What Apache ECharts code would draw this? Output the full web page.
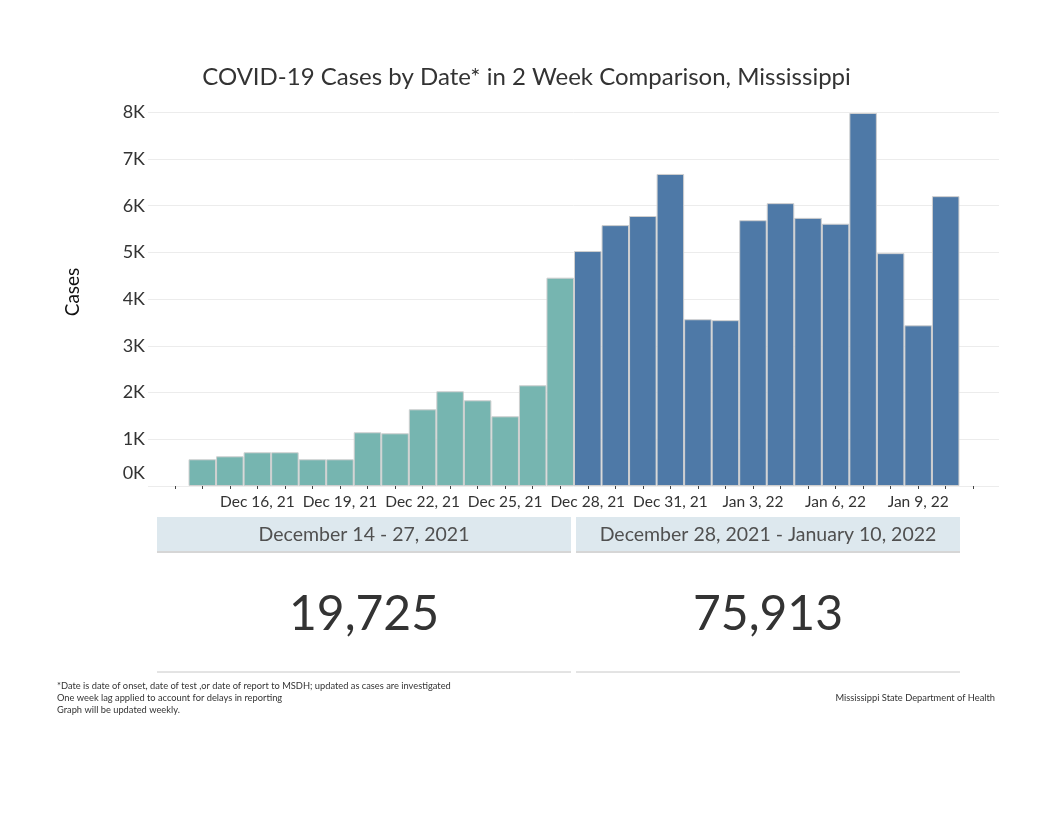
<!DOCTYPE html>
<html>
<head>
<meta charset="utf-8">
<script src="https://cdn.jsdelivr.net/npm/echarts@6/dist/echarts.min.js"></script>
<style>
html,body{margin:0;padding:0;background:#fff;}
#chart{width:1053px;height:813px;}
</style>
</head>
<body>
<div id="chart"></div>
<script>
// ---- data ----
const categories = ['Dec 13, 21','Dec 14, 21','Dec 15, 21','Dec 16, 21','Dec 17, 21','Dec 18, 21','Dec 19, 21','Dec 20, 21','Dec 21, 21','Dec 22, 21','Dec 23, 21','Dec 24, 21','Dec 25, 21','Dec 26, 21','Dec 27, 21','Dec 28, 21','Dec 29, 21','Dec 30, 21','Dec 31, 21','Jan 1, 22','Jan 2, 22','Jan 3, 22','Jan 4, 22','Jan 5, 22','Jan 6, 22','Jan 7, 22','Jan 8, 22','Jan 9, 22','Jan 10, 22','Jan 11, 22'];
const cases = [null,572,636,722,722,572,572,1150,1128,1642,2028,1835,1492,2156,4460,5030,5585,5780,6680,3570,3550,5690,6055,5740,5615,7985,4985,3440,6205,null];
const period = [null,1,1,1,1,1,1,1,1,1,1,1,1,1,1,2,2,2,2,2,2,2,2,2,2,2,2,2,2,null];
const periodLabels = ['December 14 - 27, 2021','December 28, 2021 - January 10, 2022'];
const periodTotals = ['19,725','75,913'];
const yTicks = [0,1000,2000,3000,4000,5000,6000,7000,8000];
const titleText = 'COVID-19 Cases by Date* in 2 Week Comparison, Mississippi';
const footnotes = ['*Date is date of onset, date of test ,or date of report to MSDH; updated as cases are investigated','One week lag applied to account for delays in reporting','Graph will be updated weekly.'];
const sourceText = 'Mississippi State Department of Health';

const colors = {1:'#76b5b0', 2:'#4e79a7'};
const FONT = 'Lato, "Open Sans", sans-serif';

const chart = echarts.init(document.getElementById('chart'), null, {renderer:'canvas'});

const barData = cases.map((v,i)=> v==null ? null : ({value:v, itemStyle:{color:colors[period[i]]}}));

const graphics = [];
const boxes = [[157,571],[576,960]];
boxes.forEach((b,i)=>{
  graphics.push({type:'rect', shape:{x:b[0], y:517, width:b[1]-b[0], height:34}, style:{fill:'#dde8ee'}, silent:true});
  graphics.push({type:'line', shape:{x1:b[0], y1:552, x2:b[1], y2:552}, style:{stroke:'#c8c8c8', lineWidth:1.5}, silent:true});
  graphics.push({type:'text', x:(b[0]+b[1])/2, y:535, style:{text:periodLabels[i], fill:'#505050', font:'19.5px '+FONT, align:'center', verticalAlign:'middle'}, silent:true});
  graphics.push({type:'text', x:(b[0]+b[1])/2, y:615, style:{text:periodTotals[i], fill:'#333333', font:'48px '+FONT, align:'center', verticalAlign:'middle'}, silent:true});
  graphics.push({type:'line', shape:{x1:b[0], y1:672, x2:b[1], y2:672}, style:{stroke:'#c8c8c8', lineWidth:1}, silent:true});
});
footnotes.forEach((t,i)=>{
  graphics.push({type:'text', x:57, y:686+i*12, style:{text:t, fill:'#333', font:'9.3px '+FONT, align:'left', verticalAlign:'middle'}, silent:true});
});
graphics.push({type:'text', x:995, y:698, style:{text:sourceText, fill:'#333', font:'9.3px '+FONT, align:'right', verticalAlign:'middle'}, silent:true});
graphics.push({type:'text', x:73, y:292, rotation:Math.PI/2, style:{text:'Cases', fill:'#111', font:'19px '+FONT, align:'center', verticalAlign:'middle'}, silent:true});

const option = {
  backgroundColor:'#fff',
  animation:false,
  title:{text:titleText, left:'center', top:60, textStyle:{fontFamily:FONT, fontSize:24, fontWeight:'normal', color:'#333'}},
  grid:[
    {left:161, right:66, top:112.3, bottom:327},
    {left:148, right:54, top:112.3, bottom:327}
  ],
  xAxis:[
    {type:'category', gridIndex:0, data:categories, boundaryGap:true,
     axisLine:{show:false},
     axisTick:{show:true, alignWithLabel:true, interval:0, length:3, lineStyle:{color:'#444'}},
     axisLabel:{interval:(idx)=> idx>=3 && (idx-3)%3===0, margin:8, fontFamily:FONT, fontSize:15.5, color:'#333'}
    },
    {type:'value', gridIndex:1, min:0, max:1, show:false}
  ],
  yAxis:[
    {type:'value', gridIndex:0, min:0, max:8000, interval:1000, show:false, splitLine:{show:false}},
    {type:'value', gridIndex:1, min:0, max:8000, interval:1000,
     axisLine:{show:false}, axisTick:{show:false},
     splitLine:{show:true, lineStyle:{color:'#ececec', width:1}},
     axisLabel:{margin:3, fontFamily:FONT, fontSize:18, color:'#333',
       formatter:(v)=> v===0 ? '{z|0K}' : (v/1000)+'K',
       rich:{z:{fontFamily:FONT, fontSize:18, color:'#333', padding:[0,0,26,0]}}}
    }
  ],
  series:[
    {type:'bar', xAxisIndex:0, yAxisIndex:0, data:barData, barCategoryGap:'0%',
     itemStyle:{borderColor:'#cfcfcf', borderWidth:1}, z:3}
  ],
  graphic:graphics
};
chart.setOption(option);
</script>
</body>
</html>
